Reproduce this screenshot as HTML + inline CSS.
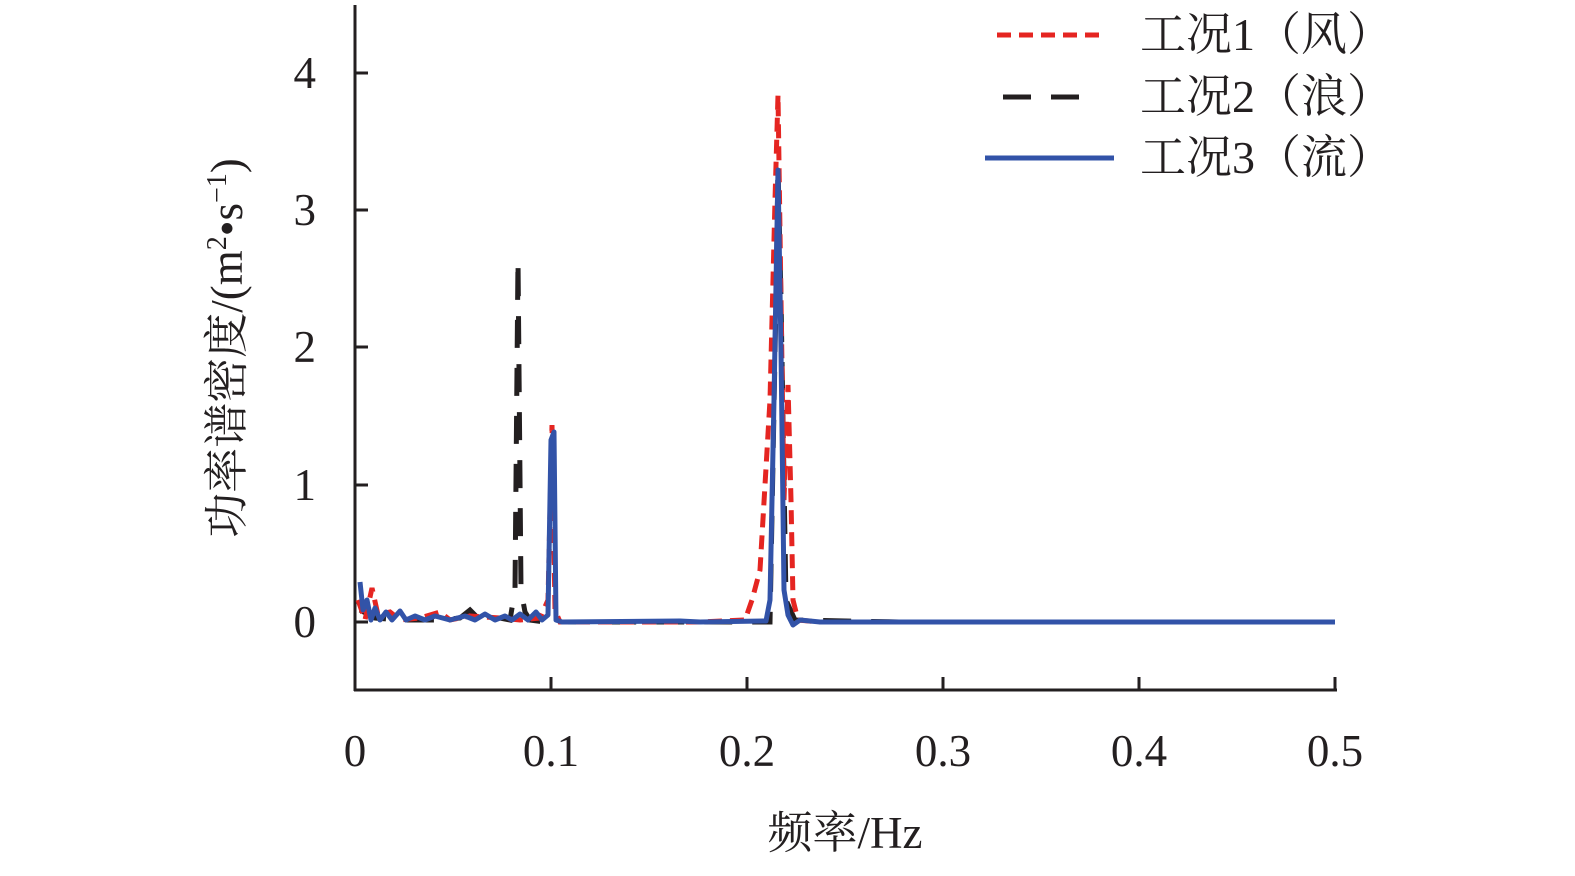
<!DOCTYPE html>
<html><head><meta charset="utf-8"><style>
html,body{margin:0;padding:0;background:#fff;overflow:hidden;}
svg{display:block;}
text{font-family:"Liberation Serif","Noto Serif CJK SC",serif;fill:#231f20;}
</style></head><body>
<svg width="1575" height="876" viewBox="0 0 1575 876" xmlns="http://www.w3.org/2000/svg">
<g stroke="#231f20" stroke-width="3" fill="none">
<line x1="355" y1="5" x2="355" y2="691"/>
<line x1="354" y1="690" x2="1337" y2="690"/>
<line x1="355" y1="622" x2="368" y2="622"/>
<line x1="355" y1="485" x2="368" y2="485"/>
<line x1="355" y1="347" x2="368" y2="347"/>
<line x1="355" y1="210" x2="368" y2="210"/>
<line x1="355" y1="73" x2="368" y2="73"/>
<line x1="551" y1="690" x2="551" y2="677"/>
<line x1="747" y1="690" x2="747" y2="677"/>
<line x1="943" y1="690" x2="943" y2="677"/>
<line x1="1139" y1="690" x2="1139" y2="677"/>
<line x1="1335" y1="690" x2="1335" y2="677"/>
</g>
<g font-size="45" text-anchor="end">
<text x="316" y="637">0</text><text x="316" y="500">1</text><text x="316" y="362">2</text><text x="316" y="225">3</text><text x="316" y="88">4</text>
</g>
<g font-size="45" text-anchor="middle">
<text x="355" y="766">0</text><text x="551" y="766">0.1</text><text x="747" y="766">0.2</text><text x="943" y="766">0.3</text><text x="1139" y="766">0.4</text><text x="1335" y="766">0.5</text>
<text x="845" y="848">频率/Hz</text>
</g>
<text font-size="45" text-anchor="middle" transform="translate(242,348) rotate(-90)">功率谱密度/(m<tspan font-size="28" dy="-16">2</tspan><tspan dy="16">•</tspan>s<tspan font-size="28" dy="-16">−1</tspan><tspan dy="16">)</tspan></text>
<!-- black dashed -->
<polyline fill="none" stroke="#231f20" stroke-width="5" stroke-dasharray="28,20" points="360,610 375,618 400,620 440,620 460,618 470,610 480,620 500,618 510,620 515,590 518,260 521,590 525,612 530,620 545,622 560,622 700,622 770,622 776,300 778,165 781,300 786,600 795,620 900,622"/>
<!-- red dashed -->
<polyline fill="none" stroke="#e52521" stroke-width="5" stroke-dasharray="14,8" points="358,600 365,620 372,588 378,615 390,612 400,620 420,618 440,612 450,620 470,616 500,618 520,620 540,618 548,600 552,425 555,610 560,622 700,622 745,620 752,600 760,570 770,400 775,200 778,95 781,300 784,500 788,385 791,500 793,600 798,620 820,622 1000,622"/>
<!-- blue solid -->
<polyline fill="none" stroke="#3253a8" stroke-width="5" stroke-linejoin="round" points="360,582 363,610 367,600 371,620 375,608 380,620 386,612 392,620 400,611 406,620 415,616 425,620 435,616 450,620 465,616 475,620 485,614 495,620 505,616 512,620 520,614 528,620 536,612 542,620 548,615 551,440 554,432 556,620 562,622 680,621 700,622 766,621 770,600 774,400 778,170 781,350 784,590 788,615 793,625 800,620 820,622 1335,622"/>
<!-- legend -->
<line x1="997" y1="35" x2="1102" y2="35" stroke="#e52521" stroke-width="5" stroke-dasharray="14,8"/>
<line x1="1003" y1="97" x2="1098" y2="97" stroke="#231f20" stroke-width="5" stroke-dasharray="28,20"/>
<line x1="985" y1="158" x2="1114" y2="158" stroke="#3253a8" stroke-width="5"/>
<g font-size="46">
<text x="1140" y="50">工况1（风）</text>
<text x="1140" y="112">工况2（浪）</text>
<text x="1140" y="173">工况3（流）</text>
</g>
</svg>
</body></html>
